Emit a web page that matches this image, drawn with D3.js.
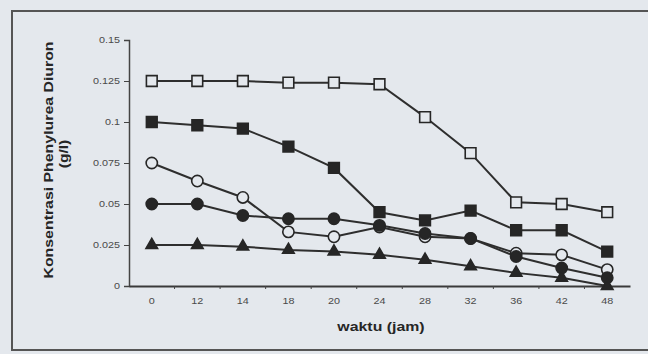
<!DOCTYPE html>
<html>
<head>
<meta charset="utf-8">
<script src="https://cdn.jsdelivr.net/npm/d3@7"></script>
<style>
  body { margin: 0; background: #e4e8ed; }
  svg { display: block; font-family: Arial, "Liberation Sans", sans-serif; }
</style>
</head>
<body>
<div id="chart"></div>
<script>
// categories (hours) and values
var hours = ["0", "12", "14", "18", "20", "24", "28", "32", "36", "42", "48"];
var openSquare   = [0.125, 0.125, 0.125, 0.124, 0.124, 0.123, 0.103, 0.081, 0.051, 0.050, 0.045];
var filledSquare = [0.100, 0.098, 0.096, 0.085, 0.072, 0.045, 0.040, 0.046, 0.034, 0.034, 0.021];
var openCircle   = [0.075, 0.064, 0.054, 0.033, 0.030, 0.036, 0.030, 0.029, 0.020, 0.019, 0.010];
var filledCircle = [0.050, 0.050, 0.043, 0.041, 0.041, 0.037, 0.032, 0.029, 0.018, 0.011, 0.005];
var triangle     = [0.025, 0.025, 0.024, 0.022, 0.021, 0.019, 0.016, 0.012, 0.008, 0.005, 0.000];
var yTicks = [0, 0.025, 0.05, 0.075, 0.1, 0.125, 0.15];

var W = 648, H = 354;
var bg = "#e4e8ed", ink = "#262626";

var svg = d3.select("#chart").append("svg")
    .attr("width", W).attr("height", H);

// scan border
svg.append("path")
    .attr("d", "M648,11 L12,11 L12,350 L648,350")
    .attr("fill", "none").attr("stroke", "#555").attr("stroke-width", 2);

var x = d3.scaleBand().domain(hours).range([129, 630]).paddingInner(0).paddingOuter(0);
var y = d3.scaleLinear().domain([0, 0.15]).range([286, 40]);
var cx = function(d) { return x(d) + x.bandwidth() / 2; };

// stretch text a bit wider like the scan
function stretch(sel, k) {
  sel.each(function() {
    var len = this.getComputedTextLength();
    d3.select(this).attr("textLength", len * k).attr("lengthAdjust", "spacingAndGlyphs");
  });
}

// Y axis
var yAxis = svg.append("g")
    .attr("transform", "translate(129,0)")
    .call(d3.axisLeft(y).tickValues(yTicks).tickSize(5).tickPadding(4)
      .tickFormat(function(d) { return d3.format("")(+d.toFixed(3)); }));
yAxis.select(".domain").attr("stroke", "#444").attr("stroke-width", 1.5);
yAxis.selectAll(".tick line").attr("stroke", "#444");
yAxis.selectAll(".tick text").attr("font-size", 9).attr("fill", "#4a4a4a").call(stretch, 1.2);

// X axis
var xAxis = svg.append("g")
    .attr("transform", "translate(0,286)")
    .call(d3.axisBottom(x).tickSize(0).tickPadding(12));
xAxis.select(".domain").attr("stroke", "#3a3a3a").attr("stroke-width", 1.8);
xAxis.selectAll(".tick text").attr("font-size", 9).attr("fill", "#4a4a4a").call(stretch, 1.2);
xAxis.selectAll(".bound").data(hours.slice(1)).enter().append("line")
    .attr("class", "bound")
    .attr("x1", function(d) { return x(d); }).attr("x2", function(d) { return x(d); })
    .attr("y1", 0).attr("y2", 3).attr("stroke", "#444");

// titles
svg.append("text")
    .attr("transform", "translate(53,160) rotate(-90)")
    .attr("text-anchor", "middle").attr("font-size", 13).attr("font-weight", "bold").attr("fill", ink)
    .text("Konsentrasi Phenylurea Diuron").call(stretch, 1.22);
svg.append("text")
    .attr("transform", "translate(68,154) rotate(-90)")
    .attr("text-anchor", "middle").attr("font-size", 13).attr("font-weight", "bold").attr("fill", ink)
    .text("(g/l)").call(stretch, 1.2);
svg.append("text")
    .attr("x", 381).attr("y", 331)
    .attr("text-anchor", "middle").attr("font-size", 13).attr("font-weight", "bold").attr("fill", ink)
    .text("waktu (jam)").call(stretch, 1.22);

// series
var series = [
  { vals: openSquare,   shape: d3.symbolSquare,   size: 115, fill: bg },
  { vals: filledSquare, shape: d3.symbolSquare,   size: 115, fill: ink },
  { vals: openCircle,   shape: d3.symbolCircle,   size: 100, fill: bg },
  { vals: filledCircle, shape: d3.symbolCircle,   size: 100, fill: ink },
  { vals: triangle,     shape: d3.symbolTriangle, size: 58,  fill: ink }
];

var line = d3.line()
    .x(function(d, i) { return cx(hours[i]); })
    .y(function(d) { return y(d); });

series.forEach(function(s) {
  svg.append("path")
      .datum(s.vals)
      .attr("d", line)
      .attr("fill", "none").attr("stroke", "#2e2e2e").attr("stroke-width", 2);
});

series.forEach(function(s) {
  svg.append("g").selectAll("path")
    .data(s.vals).enter().append("path")
      .attr("transform", function(d, i) { return "translate(" + cx(hours[i]) + "," + y(d) + ")"; })
      .attr("d", d3.symbol().type(s.shape).size(s.size))
      .attr("fill", s.fill).attr("stroke", "#262626").attr("stroke-width", 1.6);
});
</script>
</body>
</html>
